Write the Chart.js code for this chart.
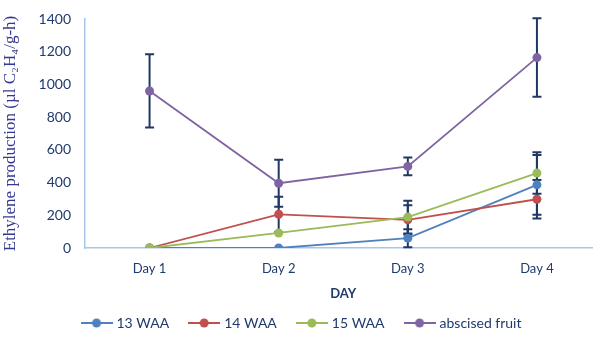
<!DOCTYPE html>
<html>
<head>
<meta charset="utf-8">
<script src="https://cdn.jsdelivr.net/npm/chart.js@4.4.1/dist/chart.umd.min.js"></script>
<style>
  html, body { margin: 0; padding: 0; background: #fff; overflow: hidden; }
  #wrap { width: 606px; height: 344px; }
</style>
</head>
<body>
<div id="wrap"><canvas id="chart" width="606" height="344"></canvas></div>
<script>
// chart data
const days = ['Day 1', 'Day 2', 'Day 3', 'Day 4'];
const waa13 = [0, 0, 60, 386];
const waa14 = [0, 206, 172, 298];
const waa15 = [0, 92, 189, 458];
const abscised = [960, 396, 499, 1164];

// error bar half-widths (same units)
const err13 = [0, 0, 55, 183];
const err14 = [0, 108, 89, 117];
const err15 = [0, 0, 100, 127];
const errAbscised = [224, 144, 55, 240];

const yTicks = [0, 200, 400, 600, 800, 1000, 1200, 1400];

const tickColor = '#203A6E';
const axisColor = '#A9C6E8';
const barColor = '#1F3864';

// little line + dot image for the legend
function legendMark(color) {
    const c = document.createElement('canvas');
    c.width = 32; c.height = 10;
    const ctx = c.getContext('2d');
    ctx.strokeStyle = color;
    ctx.lineWidth = 2;
    ctx.beginPath(); ctx.moveTo(0, 5); ctx.lineTo(32, 5); ctx.stroke();
    ctx.fillStyle = color;
    ctx.beginPath(); ctx.arc(16, 5, 4.5, 0, Math.PI * 2); ctx.fill();
    return c;
}

// draws the error bars under the lines
const errorBars = {
    id: 'errorBars',
    beforeDatasetsDraw(chart) {
        const ctx = chart.ctx;
        const y = chart.scales.y;
        ctx.save();
        ctx.strokeStyle = barColor;
        ctx.lineWidth = 2;
        chart.data.datasets.forEach((ds, i) => {
            const meta = chart.getDatasetMeta(i);
            meta.data.forEach((pt, j) => {
                const e = ds.errors[j];
                if (!e) return;
                const top = y.getPixelForValue(ds.data[j] + e);
                const bot = y.getPixelForValue(ds.data[j] - e);
                const x = pt.x;
                ctx.beginPath();
                ctx.moveTo(x, top); ctx.lineTo(x, bot);
                ctx.moveTo(x - 4.5, top); ctx.lineTo(x + 4.5, top);
                ctx.moveTo(x - 4.5, bot); ctx.lineTo(x + 4.5, bot);
                ctx.stroke();
            });
        });
        ctx.restore();
    }
};

function series(label, data, errors, color, order) {
    return {
        label: label,
        data: data,
        errors: errors,
        borderColor: color,
        backgroundColor: color,
        borderWidth: 1.8,
        pointStyle: 'circle',
        pointRadius: 4.5,
        pointHoverRadius: 4.5,
        pointBorderWidth: 0,
        order: order,
        tension: 0
    };
}

new Chart(document.getElementById('chart'), {
    type: 'line',
    data: {
        labels: days,
        datasets: [
            series('13 WAA', waa13, err13, '#4F81BD', 4),
            series('14 WAA', waa14, err14, '#C0504D', 3),
            series('15 WAA', waa15, err15, '#9BBB59', 2),
            series('abscised fruit', abscised, errAbscised, '#8064A2', 1)
        ]
    },
    options: {
        responsive: false,
        animation: false,
        layout: { padding: { top: 19, left: 0, right: 1, bottom: 4 } },
        plugins: {
            tooltip: { enabled: false },
            legend: {
                position: 'bottom',
                labels: {
                    usePointStyle: true,
                    pointStyleWidth: 26,
                    boxHeight: 10,
                    padding: 22,
                    color: tickColor,
                    font: { family: 'Lato', size: 14 },
                    sort: (a, b) => a.datasetIndex - b.datasetIndex,
                    generateLabels: chart => {
                        const items = Chart.defaults.plugins.legend.labels.generateLabels(chart);
                        items.forEach(it => {
                            it.pointStyle = legendMark(chart.data.datasets[it.datasetIndex].borderColor);
                        });
                        return items;
                    }
                }
            }
        },
        scales: {
            x: {
                offset: true,
                grid: { display: false, drawTicks: false },
                border: { color: axisColor, width: 1.5 },
                ticks: { color: tickColor, font: { family: 'Lato', size: 13 }, padding: 13 },
                title: {
                    display: true,
                    text: 'DAY',
                    color: tickColor,
                    font: { family: 'Lato', size: 13, weight: 'bold' },
                    padding: { top: 0, bottom: -8 }
                },
                afterFit: s => { s.height = 46; }
            },
            y: {
                min: 0,
                max: 1400,
                afterBuildTicks: s => { s.ticks = yTicks.map(v => ({ value: v })); },
                grid: { display: false, drawTicks: false },
                border: { color: axisColor, width: 1.5 },
                ticks: {
                    color: tickColor,
                    font: { family: 'Lato', size: 14 },
                    padding: 14,
                    callback: v => String(v)
                },
                title: {
                    display: true,
                    text: 'Ethylene production (µl C₂H₄/g-h)',
                    color: '#35388F',
                    font: { family: 'Liberation Serif', size: 17 },
                    padding: { top: 0, bottom: 0 }
                },
                afterFit: s => { s.width = 85; s.paddingTop = 0; s.paddingBottom = 0; }
            }
        }
    },
    plugins: [errorBars]
});
</script>
</body>
</html>
